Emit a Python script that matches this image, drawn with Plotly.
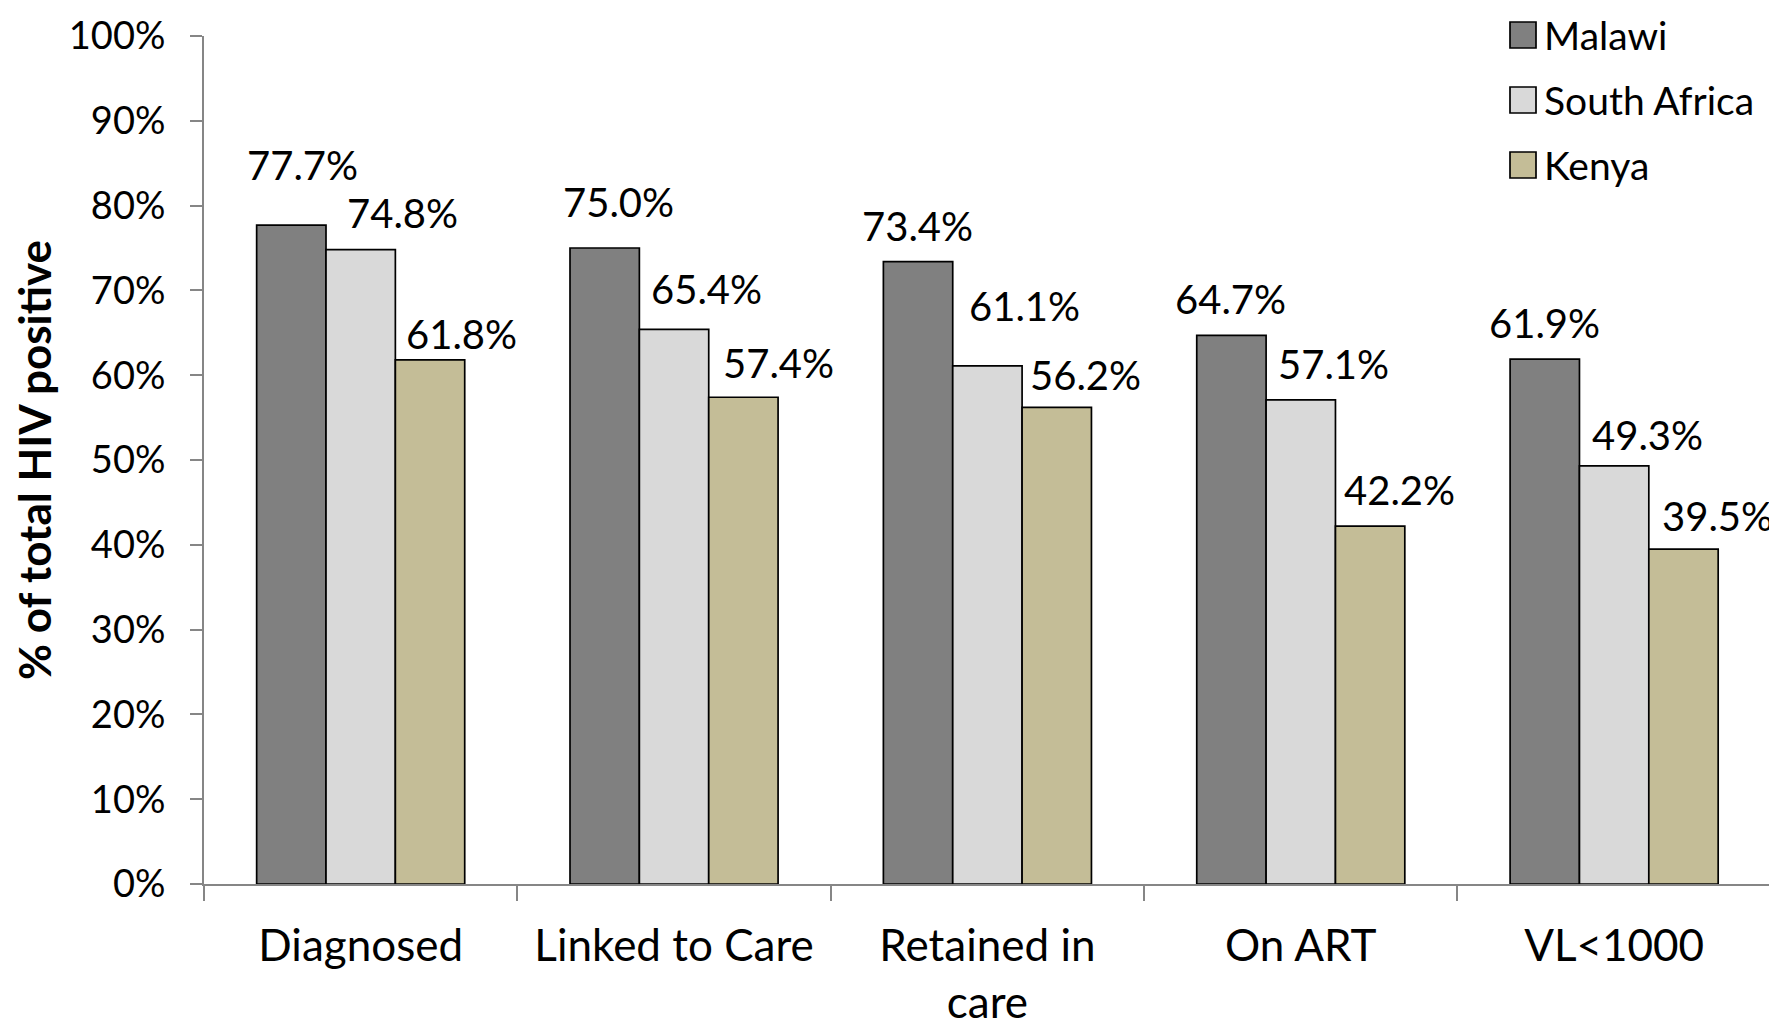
import plotly.graph_objects as go

categories = ["Diagnosed", "Linked to Care", "Retained in<br>care", "On ART", "VL<1000"]
series_names = ["Malawi", "South Africa", "Kenya"]
malawi = [77.7, 75.0, 73.4, 64.7, 61.9]
south_africa = [74.8, 65.4, 61.1, 57.1, 49.3]
kenya = [61.8, 57.4, 56.2, 42.2, 39.5]
y_ticks = [0, 10, 20, 30, 40, 50, 60, 70, 80, 90, 100]
y_tick_labels = [f"{v}%" for v in y_ticks]

colors = ["#808080", "#D9D9D9", "#C4BD97"]
# label placement nudges (pixels) relative to bar top-centre, per series
label_dx = [[11, 14, -1, -1, 0], [42, 32, 37, 33, 33], [31, 35, 29, 29, 34]]
label_dy = [[60, 46, 36, 36, 36], [37, 40, 60, 36, 31], [26, 34, 32, 36, 33]]

FONT = "Lato"
FS_TICK = 38
FS_LABEL = 40
FS_LEG = 39
FS_CAT = 44
FS_TITLE = 44
W, H = 1777, 1024
ML, MR, MT, MB = 196, 10, 28, 148
bargap = 0.336

values = [malawi, south_africa, kenya]
fig = go.Figure()
for name, vals, col in zip(series_names, values, colors):
    fig.add_trace(go.Bar(
        x=categories, y=vals, name=name,
        marker=dict(color=col, line=dict(color="black", width=1.7)),
        showlegend=False,
    ))

annotations = []
n = len(series_names)
bw = (1 - bargap) / n
for si, vals in enumerate(values):
    for ci, v in enumerate(vals):
        annotations.append(dict(
            x=ci + (si - (n - 1) / 2) * bw, y=v, xref="x", yref="y",
            text=f"{v:.1f}%", showarrow=False,
            xanchor="center", yanchor="middle",
            xshift=label_dx[si][ci], yshift=label_dy[si][ci],
            font=dict(family=FONT, size=FS_LABEL, color="black"),
        ))

# manual legend (large square swatches like the original)
plot_w = W - ML - MR
plot_h = H - MT - MB
leg_x_fig = 1515              # swatch centre, figure px
leg_rows_fig = [27, 92, 157]  # row centres, figure px from top
shapes = []
for name, col, ry in zip(series_names, colors, leg_rows_fig):
    yp = (H - MB - ry) / plot_h
    xp = (leg_x_fig - ML) / plot_w
    shapes.append(dict(
        type="rect", xref="paper", yref="paper",
        xsizemode="pixel", ysizemode="pixel",
        xanchor=xp, yanchor=yp, x0=-13, x1=13, y0=-13, y1=13,
        fillcolor=col, line=dict(color="black", width=1.7),
    ))
    annotations.append(dict(
        x=xp, y=yp, xref="paper", yref="paper", text=name, showarrow=False,
        xanchor="left", yanchor="middle", xshift=19,
        font=dict(family=FONT, size=FS_LEG, color="black"),
    ))

fig.update_layout(
    width=W, height=H,
    margin=dict(l=ML, r=MR, t=MT, b=MB, autoexpand=False),
    paper_bgcolor="white", plot_bgcolor="white",
    barmode="group", bargap=bargap, bargroupgap=0,
    font=dict(family=FONT, size=FS_TICK, color="black"),
    annotations=annotations, shapes=shapes,
    showlegend=False,
)
fig.update_yaxes(
    automargin=False,
    range=[0, 100], tickvals=y_ticks, ticktext=y_tick_labels,
    showgrid=False, zeroline=False,
    showline=True, linecolor="#868686", linewidth=2,
    ticks="outside", ticklen=12, tickcolor="#868686", tickwidth=2,
    ticklabelstandoff=17,
    tickfont=dict(family=FONT, size=FS_TICK, color="black"),
    title=dict(text="<b>% of total HIV positive</b>", standoff=18,
               font=dict(family=FONT, size=FS_TITLE, color="black")),
)
fig.update_xaxes(
    automargin=False,
    showgrid=False, showline=True, linecolor="#868686", linewidth=2,
    ticks="outside", tickson="boundaries", ticklen=15, tickcolor="#868686", tickwidth=2,
    ticklabelstandoff=22,
    tickfont=dict(family=FONT, size=FS_CAT, color="black"),
)

fig.write_html("out.html")
